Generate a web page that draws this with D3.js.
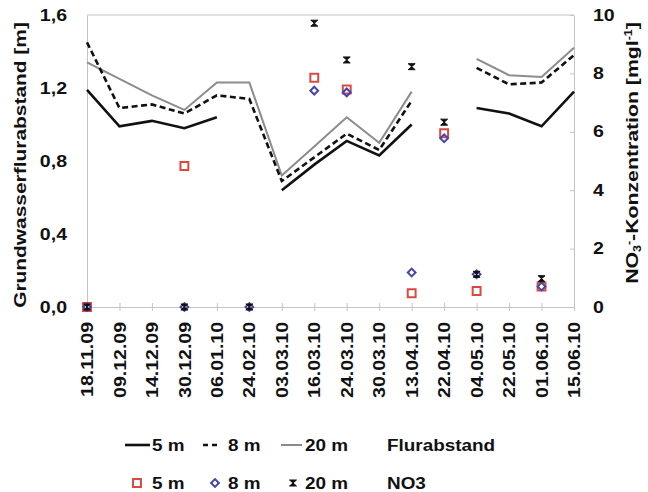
<!DOCTYPE html>
<html>
<head>
<meta charset="utf-8">
<script src="https://cdn.jsdelivr.net/npm/d3@7"></script>
<style>
body { margin: 0; background: #fff; }
text { font-family: "Liberation Sans", Arial, sans-serif; font-weight: bold; fill: #111; }
</style>
</head>
<body>
<svg id="chart"></svg>
<script>
// Data ////////////////////////////////////////
var dates = ["18.11.09","09.12.09","14.12.09","30.12.09","06.01.10","24.02.10","03.03.10","16.03.10",
             "24.03.10","30.03.10","13.04.10","22.04.10","04.05.10","22.05.10","01.06.10","15.06.10"];

// Flurabstand [m] (linke Achse)
var depth5  = [1.19, 0.99, 1.02, 0.98, 1.04, null, 0.64, 0.78, 0.91, 0.83, 1.00, null, 1.09, 1.06, 0.99, 1.18];
var depth8  = [1.45, 1.09, 1.11, 1.06, 1.16, 1.14, 0.69, 0.82, 0.95, 0.86, 1.13, null, 1.31, 1.22, 1.23, 1.38];
var depth20 = [1.34, 1.25, 1.16, 1.08, 1.23, 1.23, 0.72, 0.88, 1.04, 0.90, 1.18, null, 1.36, 1.27, 1.26, 1.42];

// NO3 [mg/l] (rechte Achse)
var no3_5  = [0, null, null, 4.83, null, null, null, 7.85, 7.45, null, 0.47, 5.95, 0.55, null, 0.70, null];
var no3_8  = [0, null, null, 0,    null, 0,    null, 7.41, 7.35, null, 1.18, 5.78, 1.12, null, 0.70, null];
var no3_20 = [0, null, null, 0,    null, 0,    null, 9.72, 8.46, null, 8.23, 6.33, 1.12, null, 0.97, null];

var leftTicks  = [0, 0.4, 0.8, 1.2, 1.6];
var rightTicks = [0, 2, 4, 6, 8, 10];

// Chart config ////////////////////////////////
var width = 648, height = 492;
var margin = {top: 15, right: 74, bottom: 185, left: 87};
var w = width - margin.left - margin.right,
    h = height - margin.top - margin.bottom;

var axisColor = "#c4c4c4";
var red = "#d84a40", blue = "#4646a8";

var svg = d3.select("#chart").attr("width", width).attr("height", height);
var g = svg.append("g").attr("transform", "translate(" + margin.left + "," + margin.top + ")");

var x = d3.scalePoint().domain(dates).range([0, w]);
var yL = d3.scaleLinear().domain([0, 1.6]).range([h, 0]);
var yR = d3.scaleLinear().domain([0, 10]).range([h, 0]);

// stretch text a bit, the original font runs wider than Arial
function widen(sel, k) {
  sel.each(function() {
    var l = this.getComputedTextLength();
    d3.select(this).attr("textLength", l * k).attr("lengthAdjust", "spacingAndGlyphs");
  });
}

function zip(vals) {
  return dates.map(function(d, i) { return {date: d, v: vals[i]}; });
}

// Axes ////////////////////////////////////////
g.append("line")
  .attr("x1", 0).attr("x2", w).attr("y1", 0).attr("y2", 0)
  .attr("stroke", axisColor);

var comma = function(d) { return d3.format(".1f")(d).replace(".", ","); };

var axL = g.append("g")
  .call(d3.axisLeft(yL).tickValues(leftTicks).tickSize(0).tickPadding(20).tickFormat(comma));
axL.select(".domain").attr("stroke", axisColor);
axL.selectAll("text").style("font-size", "16px").attr("fill", "#111");
widen(axL.selectAll("text"), 1.22);

var axR = g.append("g")
  .attr("transform", "translate(" + w + ",0)")
  .call(d3.axisRight(yR).tickValues(rightTicks).tickSizeInner(-4).tickSizeOuter(0).tickPadding(19));
axR.select(".domain").attr("stroke", axisColor);
axR.selectAll(".tick line").attr("stroke", axisColor);
axR.selectAll("text").style("font-size", "16px").attr("fill", "#111");
widen(axR.selectAll("text"), 1.22);

var axB = g.append("g")
  .attr("transform", "translate(0," + h + ")")
  .call(d3.axisBottom(x).tickSizeInner(4).tickSizeOuter(0));
axB.select(".domain").attr("stroke", axisColor);
axB.selectAll(".tick line").attr("y1", -4).attr("stroke", axisColor);
axB.selectAll("text")
  .attr("transform", "rotate(-90)")
  .attr("x", -15).attr("y", 0).attr("dy", "0.35em")
  .style("text-anchor", "end")
  .style("font-size", "16px").attr("fill", "#111");
widen(axB.selectAll("text"), 1.22);

// axis titles
svg.append("text")
  .attr("transform", "translate(26,165) rotate(-90) scale(1.23,1)")
  .attr("text-anchor", "middle")
  .style("font-size", "17px")
  .text("Grundwasserflurabstand [m]");

var rt = svg.append("text")
  .attr("transform", "translate(638,153) rotate(-90) scale(1.25,1)")
  .attr("text-anchor", "middle")
  .style("font-size", "17px");
rt.append("tspan").text("NO");
rt.append("tspan").attr("dy", "3").style("font-size", "10px").text("3");
rt.append("tspan").attr("dy", "-9").style("font-size", "10px").text("-");
rt.append("tspan").attr("dy", "6").text("-Konzentration [mgl");
rt.append("tspan").attr("dy", "-6").style("font-size", "10px").text("-1");
rt.append("tspan").attr("dy", "6").text("]");

// Lines ///////////////////////////////////////
var line = d3.line()
  .defined(function(d) { return d.v != null; })
  .x(function(d) { return x(d.date); })
  .y(function(d) { return yL(d.v); });

var lineSeries = [
  {name: "20 m", vals: depth20, stroke: "#8c8c8c", width: 2,   dash: null},
  {name: "8 m",  vals: depth8,  stroke: "#111",    width: 2.6, dash: "6,3.5"},
  {name: "5 m",  vals: depth5,  stroke: "#111",    width: 2.6, dash: null}
];

lineSeries.forEach(function(s) {
  g.append("path").datum(zip(s.vals))
    .attr("d", line)
    .attr("fill", "none")
    .attr("stroke", s.stroke)
    .attr("stroke-width", s.width)
    .attr("stroke-dasharray", s.dash);
});

// Markers /////////////////////////////////////
var squarePath = d3.symbol().type(d3.symbolSquare).size(62)();
var diamondPath = d3.symbol().type(d3.symbolSquare).size(30)();
var hourglassPath = "M-3.5,-3L3.5,-3L-3.5,3L3.5,3Z";

var pointSeries = [
  {name: "5 m",  vals: no3_5,  path: squarePath,    rot: 0,  fill: "none", stroke: red,    sw: 2},
  {name: "8 m",  vals: no3_8,  path: diamondPath,   rot: 45, fill: "none", stroke: blue,   sw: 2},
  {name: "20 m", vals: no3_20, path: hourglassPath, rot: 0,  fill: "#111", stroke: "#111", sw: 1}
];

pointSeries.forEach(function(s) {
  g.append("g").selectAll("path")
    .data(zip(s.vals).filter(function(d) { return d.v != null; }))
    .join("path")
    .attr("d", s.path)
    .attr("transform", function(d) {
      return "translate(" + x(d.date) + "," + yR(d.v) + ") rotate(" + s.rot + ")";
    })
    .attr("fill", s.fill)
    .attr("stroke", s.stroke)
    .attr("stroke-width", s.sw);
});

// Legend //////////////////////////////////////
var legX = [{mark: 125, text: 152}, {mark: 203, text: 228}, {mark: 281, text: 305}];
var row1 = 445, row2 = 483;

var leg = svg.append("g");
// line samples (5, 8, 20 m)
var legLines = [lineSeries[2], lineSeries[1], lineSeries[0]];
var legLen = [25, 14, 21];
legLines.forEach(function(s, i) {
  leg.append("line")
    .attr("x1", legX[i].mark).attr("x2", legX[i].mark + legLen[i])
    .attr("y1", row1).attr("y2", row1)
    .attr("stroke", s.stroke).attr("stroke-width", s.width)
    .attr("stroke-dasharray", s.dash ? "5,4" : null);
  leg.append("text").attr("x", legX[i].text).attr("y", row1).attr("dy", "0.35em")
    .style("font-size", "16px").text(s.name);
});
leg.append("text").attr("x", 387).attr("y", row1).attr("dy", "0.35em")
  .style("font-size", "16px").text("Flurabstand");

pointSeries.forEach(function(s, i) {
  leg.append("path")
    .attr("d", s.path)
    .attr("transform", "translate(" + (legX[i].mark + 12) + "," + row2 + ") rotate(" + s.rot + ")")
    .attr("fill", s.fill).attr("stroke", s.stroke).attr("stroke-width", s.sw);
  leg.append("text").attr("x", legX[i].text).attr("y", row2).attr("dy", "0.35em")
    .style("font-size", "16px").text(s.name);
});
leg.append("text").attr("x", 387).attr("y", row2).attr("dy", "0.35em")
  .style("font-size", "16px").text("NO3");

widen(leg.selectAll("text"), 1.18);
</script>
</body>
</html>
